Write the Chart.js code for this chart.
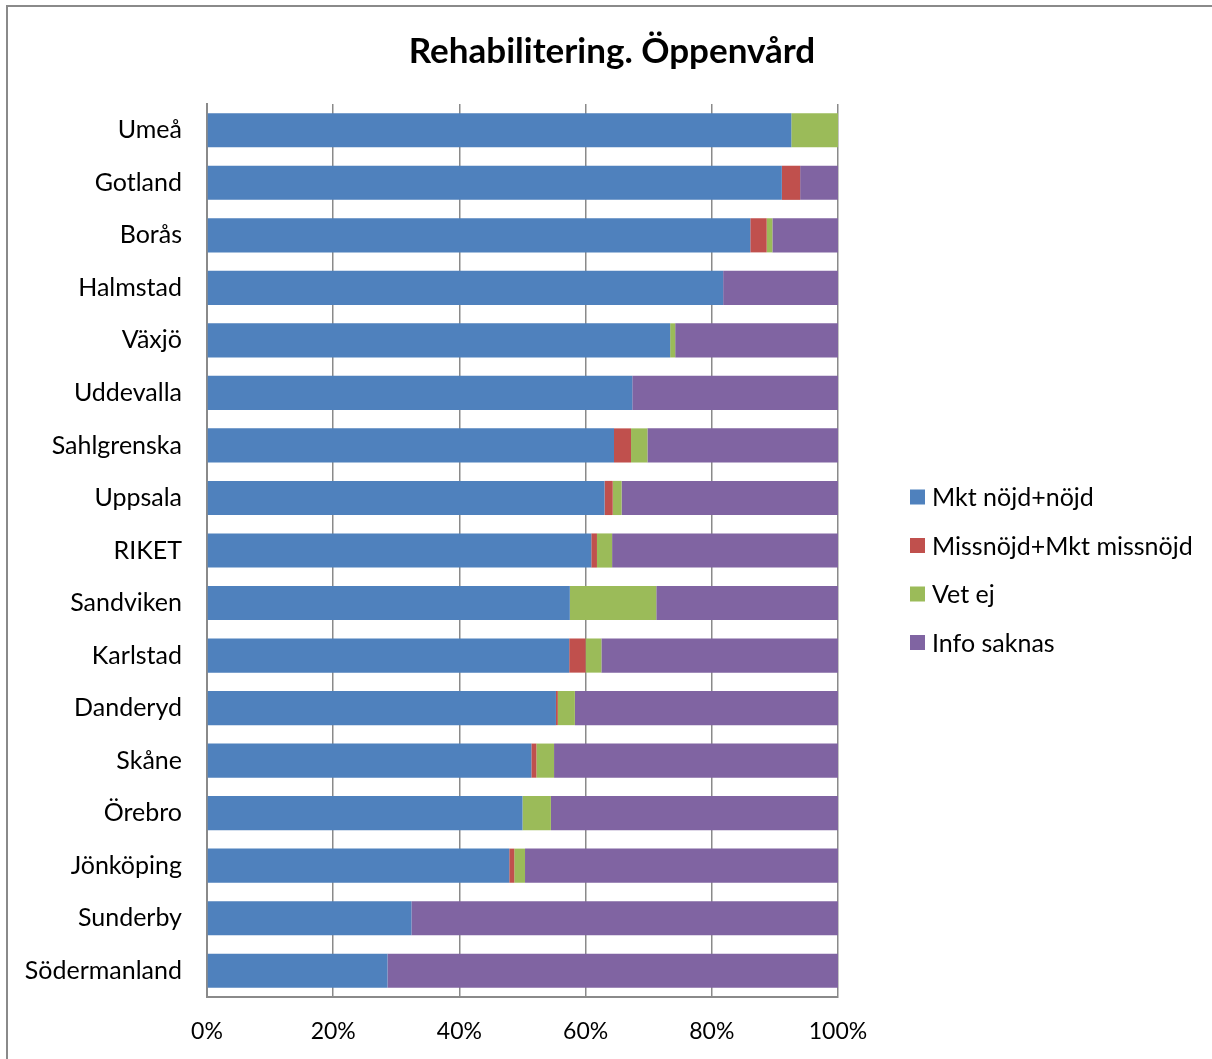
<!DOCTYPE html>
<html>
<head>
<meta charset="utf-8">
<script src="https://cdn.jsdelivr.net/npm/chart.js@4/dist/chart.umd.min.js"></script>
<style>
  html, body { margin: 0; padding: 0; background: #fff; }
  #wrap { width: 1212px; height: 1059px; }
</style>
</head>
<body>
<div id="wrap"><canvas id="myChart" width="1212" height="1059"></canvas></div>
<script>
const labels = ['Umeå', 'Gotland', 'Borås', 'Halmstad', 'Växjö', 'Uddevalla', 'Sahlgrenska',
    'Uppsala', 'RIKET', 'Sandviken', 'Karlstad', 'Danderyd', 'Skåne', 'Örebro',
    'Jönköping', 'Sunderby', 'Södermanland'];

// andel i procent per sjukhus
const nojd     = [92.6, 91.1, 86.1, 81.8, 73.4, 67.4, 64.5, 63.0, 60.9, 57.5, 57.4, 55.3, 51.4, 50.0, 47.9, 32.4, 28.6];
const missnojd = [0,    2.9,  2.6,  0,    0,    0,    2.7,  1.3,  0.9,  0,    2.6,  0.3,  0.8,  0,    0.8,  0,    0];
const vetEj    = [7.4,  0,    0.9,  0,    0.8,  0,    2.6,  1.4,  2.4,  13.7, 2.5,  2.7,  2.8,  4.5,  1.7,  0,    0];
const saknas   = [0,    6.0,  10.4, 18.2, 25.8, 32.6, 30.2, 34.3, 35.8, 28.8, 37.5, 41.7, 45.0, 45.5, 49.6, 67.6, 71.4];

const xTicks = [0, 20, 40, 60, 80, 100];
const titel = 'Rehabilitering. Öppenvård';

const fontName = 'Lato, "Open Sans", sans-serif';
const gridGray = '#8a8a8a';

function serie(label, data, color){
    return {
        label: label,
        data: data,
        backgroundColor: color,
        borderWidth: 0,
        barPercentage: 0.65,
        categoryPercentage: 1.0,
        stack: 's'
    };
}

const data = {
    labels: labels,
    datasets: [
        serie('Mkt nöjd+nöjd', nojd, '#4F81BD'),
        serie('Missnöjd+Mkt missnöjd', missnojd, '#C0504D'),
        serie('Vet ej', vetEj, '#9BBB59'),
        serie('Info saknas', saknas, '#8064A2')
    ]
};

// ram runt hela diagrammet + rubrik centrerad över hela bilden
const framePlugin = {
    id: 'frame',
    afterDraw: (chart)=>{
        const ctx = chart.ctx;
        ctx.save();
        ctx.strokeStyle = '#8a8a8a';
        ctx.lineWidth = 2;
        ctx.beginPath();
        ctx.moveTo(7, chart.height + 5);
        ctx.lineTo(7, 6);
        ctx.lineTo(chart.width + 5, 6);
        ctx.stroke();

        ctx.fillStyle = '#000';
        ctx.font = 'bold 35px ' + fontName;
        ctx.textAlign = 'center';
        ctx.textBaseline = 'middle';
        ctx.fillText(titel, 612, 52);
        ctx.restore();
    }
};

// egen förklaring till höger om ytan
const legendPlugin = {
    id: 'sideLegend',
    afterDraw: (chart)=>{
        const ctx = chart.ctx;
        const x = 910, y0 = 497, step = 48.5, box = 15;
        ctx.save();
        ctx.font = '25px ' + fontName;
        ctx.textBaseline = 'middle';
        ctx.textAlign = 'left';
        chart.data.datasets.forEach((ds, i)=>{
            const y = y0 + i * step;
            ctx.fillStyle = ds.backgroundColor;
            ctx.fillRect(x, y - box / 2, box, box);
            ctx.fillStyle = '#000';
            ctx.fillText(ds.label, x + 22, y + 1);
        });
        ctx.restore();
    }
};

const config = {
    type: 'bar',
    data: data,
    options: {
        indexAxis: 'y',
        responsive: false,
        animation: false,
        layout: { padding: { left: 0, right: 374, top: 104, bottom: 0 } },
        plugins: {
            legend: { display: false },
            tooltip: { enabled: false },
            title: { display: false }
        },
        scales: {
            x: {
                stacked: true,
                min: 0,
                max: 100,
                afterFit: (scale)=>{ scale.height = 62; },
                afterBuildTicks: (scale)=>{ scale.ticks = xTicks.map((v)=>({ value: v })); },
                grid: { color: gridGray, lineWidth: 1.5, drawTicks: false },
                border: { display: true, color: gridGray, width: 2 },
                ticks: {
                    padding: 21,
                    color: '#000',
                    font: { family: fontName, size: 23 },
                    callback: (v)=> v + '%'
                }
            },
            y: {
                stacked: true,
                afterFit: (scale)=>{ scale.width = 207; },
                grid: { display: false, drawTicks: false },
                border: { display: true, color: gridGray, width: 2 },
                ticks: {
                    padding: 25,
                    color: '#000',
                    font: { family: fontName, size: 25 }
                }
            }
        }
    },
    plugins: [framePlugin, legendPlugin]
};

var myChart = new Chart(document.getElementById('myChart'), config);
</script>
</body>
</html>
